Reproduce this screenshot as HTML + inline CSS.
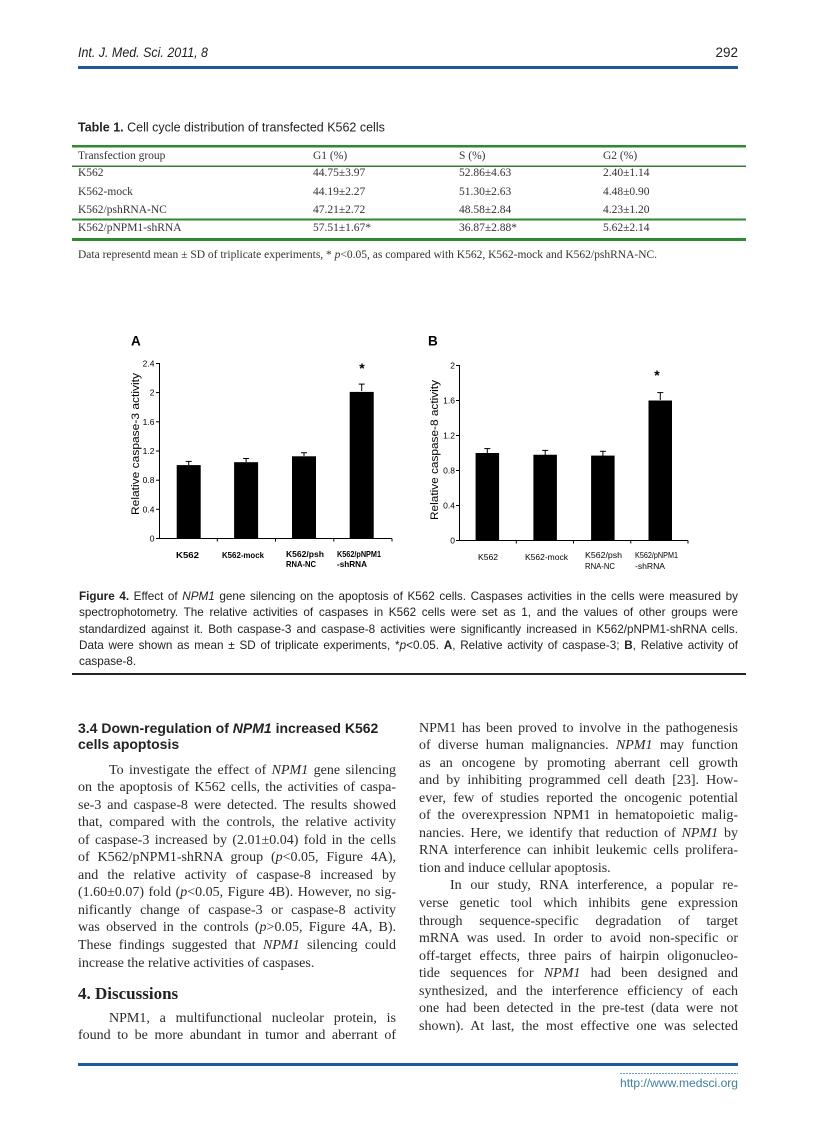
<!DOCTYPE html>
<html><head><meta charset="utf-8">
<style>
html,body{margin:0;padding:0;background:#fff;}
body{width:816px;height:1123px;position:relative;overflow:hidden;}
svg{position:absolute;left:0;top:0;}
.t{position:absolute;font-family:"Liberation Serif",serif;font-size:11.5px;line-height:14px;color:#333;white-space:nowrap;}
.col{position:absolute;font-family:"Liberation Serif",serif;font-size:14px;line-height:17.55px;color:#2a2a2a;}
.col div{height:17.55px;text-align:justify;text-align-last:justify;}
.col div.l{text-align-last:left;}
.col div.in{padding-left:31px;}
.cap{position:absolute;left:79px;top:589px;width:659px;font-family:"Liberation Sans",sans-serif;font-size:11.7px;line-height:16.3px;color:#222;}
.cap div{height:16.3px;text-align:justify;text-align-last:justify;}
.cap div.l{text-align-last:left;}
.h{position:absolute;font-family:"Liberation Sans",sans-serif;font-weight:bold;font-size:14px;line-height:16px;color:#222;white-space:nowrap;}
</style></head><body>

<svg width="816" height="1123" viewBox="0 0 816 1123" xmlns="http://www.w3.org/2000/svg" font-family="Liberation Sans, sans-serif">
  <!-- header -->
  <text x="78" y="57" font-size="13.5" font-style="italic" fill="#222" textLength="130" lengthAdjust="spacingAndGlyphs">Int. J. Med. Sci. 2011, 8</text>
  <text x="738" y="57" font-size="13.5" fill="#222" text-anchor="end">292</text>
  <rect x="78" y="66" width="660" height="3" fill="#1d5c98"/>

  <!-- table caption -->
  <text x="78" y="131.5" font-size="12.5" fill="#222"><tspan font-weight="bold">Table 1.</tspan> Cell cycle distribution of transfected K562 cells</text>

  <!-- table rules -->
  <rect x="72" y="145" width="674" height="2.5" fill="#2f8a2f"/>
  <rect x="72" y="165.5" width="674" height="1.5" fill="#3c7a3c"/>
  <rect x="72" y="218.5" width="674" height="2" fill="#2f8a2f"/>
  <rect x="72" y="238" width="674" height="3" fill="#2f8a2f"/>

  <!-- Chart A -->
  <g stroke="#000" stroke-width="1" fill="none">
    <line x1="159.5" y1="363" x2="159.5" y2="538.5"/>
    <line x1="159" y1="538.5" x2="392" y2="538.5"/>
    <line x1="156" y1="538.5" x2="159.5" y2="538.5"/>
    <line x1="156" y1="509.3" x2="159.5" y2="509.3"/>
    <line x1="156" y1="480.2" x2="159.5" y2="480.2"/>
    <line x1="156" y1="451" x2="159.5" y2="451"/>
    <line x1="156" y1="421.8" x2="159.5" y2="421.8"/>
    <line x1="156" y1="392.6" x2="159.5" y2="392.6"/>
    <line x1="156" y1="363.5" x2="159.5" y2="363.5"/>
    <line x1="217.3" y1="538.5" x2="217.3" y2="541.5"/>
    <line x1="275.5" y1="538.5" x2="275.5" y2="541.5"/>
    <line x1="333.8" y1="538.5" x2="333.8" y2="541.5"/>
    <line x1="392" y1="538.5" x2="392" y2="541.5"/>
    <line x1="188.7" y1="465" x2="188.7" y2="461.4"/><line x1="185.7" y1="461.4" x2="191.7" y2="461.4"/>
    <line x1="246.1" y1="462" x2="246.1" y2="458.5"/><line x1="243.1" y1="458.5" x2="249.1" y2="458.5"/>
    <line x1="304" y1="456" x2="304" y2="452.7"/><line x1="301" y1="452.7" x2="307" y2="452.7"/>
    <line x1="361.7" y1="391" x2="361.7" y2="384.1"/><line x1="358.7" y1="384.1" x2="364.7" y2="384.1"/>
  </g>
  <g fill="#000">
    <rect x="176.7" y="465.1" width="24" height="73.4"/>
    <rect x="234.1" y="462.2" width="24" height="76.3"/>
    <rect x="292" y="456.3" width="24" height="82.2"/>
    <rect x="349.7" y="391.9" width="24" height="146.6"/>
  </g>
  <g font-size="8.5" fill="#000" text-anchor="end">
    <text x="154.5" y="541.5">0</text>
    <text x="154.5" y="512.3">0.4</text>
    <text x="154.5" y="483.2">0.8</text>
    <text x="154.5" y="454">1.2</text>
    <text x="154.5" y="424.8">1.6</text>
    <text x="154.5" y="395.6">2</text>
    <text x="154.5" y="366.5">2.4</text>
  </g>
  <text transform="translate(139,444) rotate(-90)" font-size="11" text-anchor="middle" fill="#000" textLength="142" lengthAdjust="spacingAndGlyphs">Relative caspase-3 activity</text>
  <text x="362" y="373" font-size="14" font-weight="bold" text-anchor="middle" fill="#000">*</text>
  <text x="131" y="345.5" font-size="13.5" font-weight="bold" fill="#000">A</text>
  <g font-size="8.5" font-weight="bold" fill="#000">
    <text x="176" y="558" textLength="23" lengthAdjust="spacingAndGlyphs">K562</text>
    <text x="222" y="558" textLength="42" lengthAdjust="spacingAndGlyphs">K562-mock</text>
    <text x="286" y="557" textLength="38" lengthAdjust="spacingAndGlyphs">K562/psh</text>
    <text x="286" y="567" textLength="30" lengthAdjust="spacingAndGlyphs">RNA-NC</text>
    <text x="337" y="557" textLength="44" lengthAdjust="spacingAndGlyphs">K562/pNPM1</text>
    <text x="337" y="567" textLength="30" lengthAdjust="spacingAndGlyphs">-shRNA</text>
  </g>

  <!-- Chart B -->
  <g stroke="#000" stroke-width="1" fill="none">
    <line x1="459.5" y1="365" x2="459.5" y2="540.5"/>
    <line x1="459" y1="540.5" x2="688" y2="540.5"/>
    <line x1="456" y1="540.5" x2="459.5" y2="540.5"/>
    <line x1="456" y1="505.5" x2="459.5" y2="505.5"/>
    <line x1="456" y1="470.5" x2="459.5" y2="470.5"/>
    <line x1="456" y1="435.5" x2="459.5" y2="435.5"/>
    <line x1="456" y1="400.5" x2="459.5" y2="400.5"/>
    <line x1="456" y1="365.5" x2="459.5" y2="365.5"/>
    <line x1="516.3" y1="540.5" x2="516.3" y2="543.5"/>
    <line x1="573.5" y1="540.5" x2="573.5" y2="543.5"/>
    <line x1="630.8" y1="540.5" x2="630.8" y2="543.5"/>
    <line x1="688" y1="540.5" x2="688" y2="543.5"/>
    <line x1="487.3" y1="453" x2="487.3" y2="448.6"/><line x1="484.3" y1="448.6" x2="490.3" y2="448.6"/>
    <line x1="545.2" y1="455" x2="545.2" y2="450.4"/><line x1="542.2" y1="450.4" x2="548.2" y2="450.4"/>
    <line x1="602.9" y1="456" x2="602.9" y2="451.3"/><line x1="599.9" y1="451.3" x2="605.9" y2="451.3"/>
    <line x1="660.3" y1="400" x2="660.3" y2="392.6"/><line x1="657.3" y1="392.6" x2="663.3" y2="392.6"/>
  </g>
  <g fill="#000">
    <rect x="475.6" y="453" width="23.5" height="87.5"/>
    <rect x="533.4" y="454.75" width="23.5" height="85.75"/>
    <rect x="591.1" y="455.6" width="23.5" height="84.9"/>
    <rect x="648.5" y="400.5" width="23.5" height="140"/>
  </g>
  <g font-size="8.5" fill="#000" text-anchor="end">
    <text x="455" y="543.5">0</text>
    <text x="455" y="508.5">0.4</text>
    <text x="455" y="473.5">0.8</text>
    <text x="455" y="438.5">1.2</text>
    <text x="455" y="403.5">1.6</text>
    <text x="455" y="368.5">2</text>
  </g>
  <text transform="translate(438,450) rotate(-90)" font-size="11" text-anchor="middle" fill="#000" textLength="140" lengthAdjust="spacingAndGlyphs">Relative caspase-8 activity</text>
  <text x="657" y="380" font-size="14" font-weight="bold" text-anchor="middle" fill="#000">*</text>
  <text x="428" y="345.5" font-size="13.5" font-weight="bold" fill="#000">B</text>
  <g font-size="8.5" fill="#000">
    <text x="478" y="560" textLength="20" lengthAdjust="spacingAndGlyphs">K562</text>
    <text x="525" y="560" textLength="43" lengthAdjust="spacingAndGlyphs">K562-mock</text>
    <text x="585" y="558" textLength="37" lengthAdjust="spacingAndGlyphs">K562/psh</text>
    <text x="585" y="569" textLength="30" lengthAdjust="spacingAndGlyphs">RNA-NC</text>
    <text x="635" y="558" textLength="43" lengthAdjust="spacingAndGlyphs">K562/pNPM1</text>
    <text x="635" y="569" textLength="30" lengthAdjust="spacingAndGlyphs">-shRNA</text>
  </g>

  <!-- caption rule -->
  <rect x="72" y="673" width="674" height="2" fill="#222"/>

  <!-- footer -->
  <rect x="78" y="1063" width="660" height="3" fill="#1d5c98"/>
  <line x1="620" y1="1073.5" x2="738" y2="1073.5" stroke="#6a9cc8" stroke-width="1" stroke-dasharray="2,1"/>
  <text x="738" y="1087" font-size="12" fill="#3f7f9f" text-anchor="end" textLength="118" lengthAdjust="spacingAndGlyphs">http://www.medsci.org</text>
</svg>

<!-- Table text -->
<div class="t" style="left:78px;top:148.6px;">Transfection group</div>
<div class="t" style="left:313px;top:148.6px;">G1 (%)</div>
<div class="t" style="left:459px;top:148.6px;">S (%)</div>
<div class="t" style="left:603px;top:148.6px;">G2 (%)</div>

<div class="t" style="left:78px;top:165.6px;">K562</div>
<div class="t" style="left:313px;top:165.6px;">44.75±3.97</div>
<div class="t" style="left:459px;top:165.6px;">52.86±4.63</div>
<div class="t" style="left:603px;top:165.6px;">2.40±1.14</div>

<div class="t" style="left:78px;top:184.6px;">K562-mock</div>
<div class="t" style="left:313px;top:184.6px;">44.19±2.27</div>
<div class="t" style="left:459px;top:184.6px;">51.30±2.63</div>
<div class="t" style="left:603px;top:184.6px;">4.48±0.90</div>

<div class="t" style="left:78px;top:202.6px;">K562/pshRNA-NC</div>
<div class="t" style="left:313px;top:202.6px;">47.21±2.72</div>
<div class="t" style="left:459px;top:202.6px;">48.58±2.84</div>
<div class="t" style="left:603px;top:202.6px;">4.23±1.20</div>

<div class="t" style="left:78px;top:220.6px;">K562/pNPM1-shRNA</div>
<div class="t" style="left:313px;top:220.6px;">57.51±1.67*</div>
<div class="t" style="left:459px;top:220.6px;">36.87±2.88*</div>
<div class="t" style="left:603px;top:220.6px;">5.62±2.14</div>

<div class="t" style="left:78px;top:247.6px;">Data representd mean ± SD of triplicate experiments, * <i>p</i>&lt;0.05, as compared with K562, K562-mock and K562/pshRNA-NC.</div>

<!-- Figure caption -->
<div class="cap">
  <div><b>Figure 4.</b> Effect of <i>NPM1</i> gene silencing on the apoptosis of K562 cells. Caspases activities in the cells were measured by</div>
  <div>spectrophotometry. The relative activities of caspases in K562 cells were set as 1, and the values of other groups were</div>
  <div>standardized against it. Both caspase-3 and caspase-8 activities were significantly increased in K562/pNPM1-shRNA cells.</div>
  <div>Data were shown as mean ± SD of triplicate experiments, *<i>p</i>&lt;0.05. <b>A</b>, Relative activity of caspase-3; <b>B</b>, Relative activity of</div>
  <div class="l">caspase-8.</div>
</div>

<!-- Left column heading -->
<div class="h" style="left:78px;top:720px;">3.4 Down-regulation of <i>NPM1</i> increased K562</div>
<div class="h" style="left:78px;top:736px;">cells apoptosis</div>

<div class="col" style="left:78px;top:761.5px;width:318px;">
  <div class="in">To investigate the effect of <i>NPM1</i> gene silencing</div>
  <div>on the apoptosis of K562 cells, the activities of caspa-</div>
  <div>se-3 and caspase-8 were detected. The results showed</div>
  <div>that, compared with the controls, the relative activity</div>
  <div>of caspase-3 increased by (2.01±0.04) fold in the cells</div>
  <div>of K562/pNPM1-shRNA group (<i>p</i>&lt;0.05, Figure 4A),</div>
  <div>and the relative activity of caspase-8 increased by</div>
  <div>(1.60±0.07) fold (<i>p</i>&lt;0.05, Figure 4B). However, no sig-</div>
  <div>nificantly change of caspase-3 or caspase-8 activity</div>
  <div>was observed in the controls (<i>p</i>&gt;0.05, Figure 4A, B).</div>
  <div>These findings suggested that <i>NPM1</i> silencing could</div>
  <div class="l">increase the relative activities of caspases.</div>
</div>

<div style="position:absolute;left:78px;top:983.5px;font-family:'Liberation Serif',serif;font-weight:bold;font-size:17px;line-height:20px;color:#222;white-space:nowrap;">4. Discussions</div>

<div class="col" style="left:78px;top:1009.5px;width:318px;">
  <div class="in">NPM1, a multifunctional nucleolar protein, is</div>
  <div>found to be more abundant in tumor and aberrant of</div>
</div>

<!-- Right column -->
<div class="col" style="left:419px;top:719.5px;width:319px;">
  <div>NPM1 has been proved to involve in the pathogenesis</div>
  <div>of diverse human malignancies. <i>NPM1</i> may function</div>
  <div>as an oncogene by promoting aberrant cell growth</div>
  <div>and by inhibiting programmed cell death [23]. How-</div>
  <div>ever, few of studies reported the oncogenic potential</div>
  <div>of the overexpression NPM1 in hematopoietic malig-</div>
  <div>nancies. Here, we identify that reduction of <i>NPM1</i> by</div>
  <div>RNA interference can inhibit leukemic cells prolifera-</div>
  <div class="l">tion and induce cellular apoptosis.</div>
  <div class="in">In our study, RNA interference, a popular re-</div>
  <div>verse genetic tool which inhibits gene expression</div>
  <div>through sequence-specific degradation of target</div>
  <div>mRNA was used. In order to avoid non-specific or</div>
  <div>off-target effects, three pairs of hairpin oligonucleo-</div>
  <div>tide sequences for <i>NPM1</i> had been designed and</div>
  <div>synthesized, and the interference efficiency of each</div>
  <div>one had been detected in the pre-test (data were not</div>
  <div>shown). At last, the most effective one was selected</div>
</div>

</body></html>
